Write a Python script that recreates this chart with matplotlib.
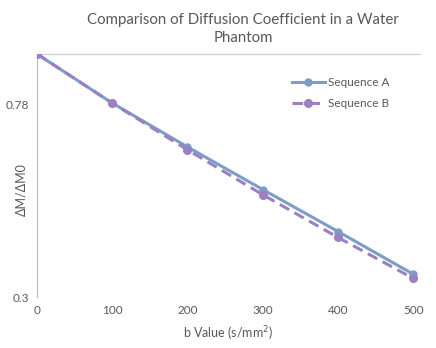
import matplotlib
matplotlib.use("Agg")
import matplotlib.pyplot as plt
from matplotlib.ticker import FixedLocator, NullLocator, FixedFormatter

b_values = [0, 100, 200, 300, 400, 500]
seq_a = [1.0, 0.784, 0.631, 0.511, 0.415, 0.336]
seq_b = [1.0, 0.784, 0.622, 0.498, 0.403, 0.329]
y_ticks = [0.3, 0.78]
y_tick_labels = ["0.3", "0.78"]
x_ticks = [0, 100, 200, 300, 400, 500]

plt.rcParams['font.family'] = ['Lato', 'DejaVu Sans']

fig = plt.figure(figsize=(4.36, 3.48), dpi=100)
ax = fig.add_axes([37/436, 1 - 297/348, 383/436, 243/348])

col_a = '#7B9DC6'
col_b = '#9B80C3'
ax.plot(b_values, seq_a, color=col_a, lw=2.2, marker='o', ms=5, label='Sequence A', zorder=3)
ax.plot(b_values, seq_b, color=col_b, lw=2.2, ls=(0, (3.5, 2)), marker='o', ms=5.5,
        label='Sequence B', zorder=4)

ax.set_yscale('log')
ax.set_ylim(0.3, 1.0)
ax.set_xlim(0, 509)
ax.yaxis.set_major_locator(FixedLocator(y_ticks))
ax.yaxis.set_major_formatter(FixedFormatter(y_tick_labels))
ax.yaxis.set_minor_locator(NullLocator())
ax.set_xticks(x_ticks)
ax.tick_params(length=0, labelsize=8.5, labelcolor='#595959', pad=6)

for s in ['right', 'bottom']:
    ax.spines[s].set_visible(False)
ax.spines['left'].set_color('#BFBFBF')
ax.spines['top'].set_color('#D0D0D0')
ax.spines['left'].set_linewidth(0.9)
ax.spines['top'].set_linewidth(0.9)

ax.set_xlabel('b Value (s/mm$^{2}$)', fontsize=9, color='#595959', labelpad=6)
ax.set_ylabel('ΔM/ΔM0', fontsize=9, color='#595959')
ax.yaxis.set_label_coords((27 - 37) / 383, (297 - 190) / 243)

fig.text(243/436, 1 - 29/348, 'Comparison of Diffusion Coefficient in a Water\nPhantom',
         ha='center', va='center', fontsize=10.8, color='#595959', linespacing=1.45)

leg = ax.legend(loc='upper left', bbox_to_anchor=(250/383, 1 - 18/243), frameon=False,
                fontsize=8.5, labelcolor='#595959', handlelength=2.8, handletextpad=0.3,
                labelspacing=0.9, borderaxespad=0)

fig.savefig('out.png', dpi=100)
